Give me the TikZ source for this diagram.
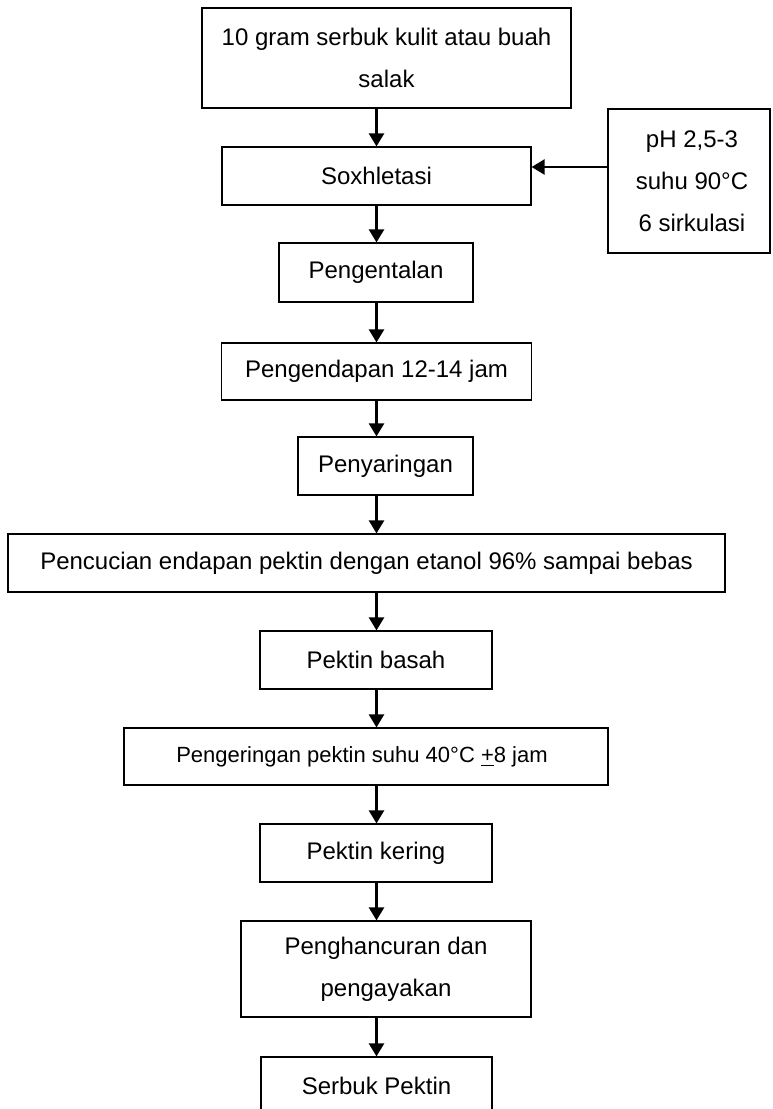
\documentclass[tikz,border=0pt]{standalone}
\usepackage{fontspec}
\setmainfont{Liberation Sans}
\usetikzlibrary{positioning, arrows.meta}

\begin{document}
\begin{tikzpicture}[x=0.5pt, y=-0.5pt,
        box/.style={draw, line width=0.6pt, inner sep=0pt, align=center, font=\fontsize{12}{21}\selectfont},
        flow/.style={line width=1.2pt, -{Triangle[width=7.5pt, length=6.5pt]}}]
        \useasboundingbox (0,0) rectangle (772,1109);

        % Draw the process steps
        \node[box, minimum width=184.5pt, minimum height=50pt] (s1) at (386.5,58) {10 gram serbuk kulit atau buah\\salak};
        \node[box, minimum width=154.5pt, minimum height=29pt] (s2) at (376.5,176) {Soxhletasi};
        \node[box, minimum width=97pt, minimum height=29.5pt] (s3) at (376,272.5) {Pengentalan};
        \node[box, minimum width=155pt, minimum height=28.5pt] (s4) at (376.5,371.5) {Pengendapan 12-14 jam};
        \node[box, minimum width=87.5pt, minimum height=29pt] (s5) at (385.5,466) {Penyaringan};
        \node[box, minimum width=358.5pt, minimum height=29pt] (s6) at (366.5,563) {Pencucian endapan pektin dengan etanol 96\% sampai bebas};
        \node[box, minimum width=116pt, minimum height=29pt] (s7) at (376,660) {Pektin basah};
        \node[box, minimum width=242pt, minimum height=28.5pt, font=\fontsize{11}{21}\selectfont] (s8) at (366,756.5) {Pengeringan pektin suhu 40°C \underline{+}8 jam\hspace*{4pt}};
        \node[box, minimum width=116pt, minimum height=29pt] (s9) at (376,853) {Pektin kering};
        \node[box, minimum width=145pt, minimum height=48pt] (s10) at (386,969) {Penghancuran dan\\pengayakan};
        \node[box, minimum width=115.5pt, minimum height=29pt] (s11) at (376.5,1086) {Serbuk Pektin};

        % Draw the extraction conditions
        \node[box, minimum width=81pt, minimum height=72pt] (cond) at (689,181) {\hspace*{3pt}pH 2,5-3\\\hspace*{3pt}suhu 90°C\\\hspace*{3pt}6 sirkulasi};

        % Draw arrows between the steps
        \draw[flow] (s1.south -| s2) -- (s2.north);
        \draw[flow] (s2.south) -- (s3.north -| s2);
        \draw[flow] (s3.south -| s2) -- (s4.north -| s2);
        \draw[flow] (s4.south -| s2) -- (s5.north -| s2);
        \draw[flow] (s5.south -| s2) -- (s6.north -| s2);
        \draw[flow] (s6.south -| s2) -- (s7.north -| s2);
        \draw[flow] (s7.south -| s2) -- (s8.north -| s2);
        \draw[flow] (s8.south -| s2) -- (s9.north -| s2);
        \draw[flow] (s9.south -| s2) -- (s10.north -| s2);
        \draw[flow] (s10.south -| s2) -- (s11.north -| s2);

        % Draw the arrow from the conditions
        \draw[flow] ([yshift=7pt]cond.west) -- ([yshift=7pt]cond.west -| s2.east);
\end{tikzpicture}
\end{document}
